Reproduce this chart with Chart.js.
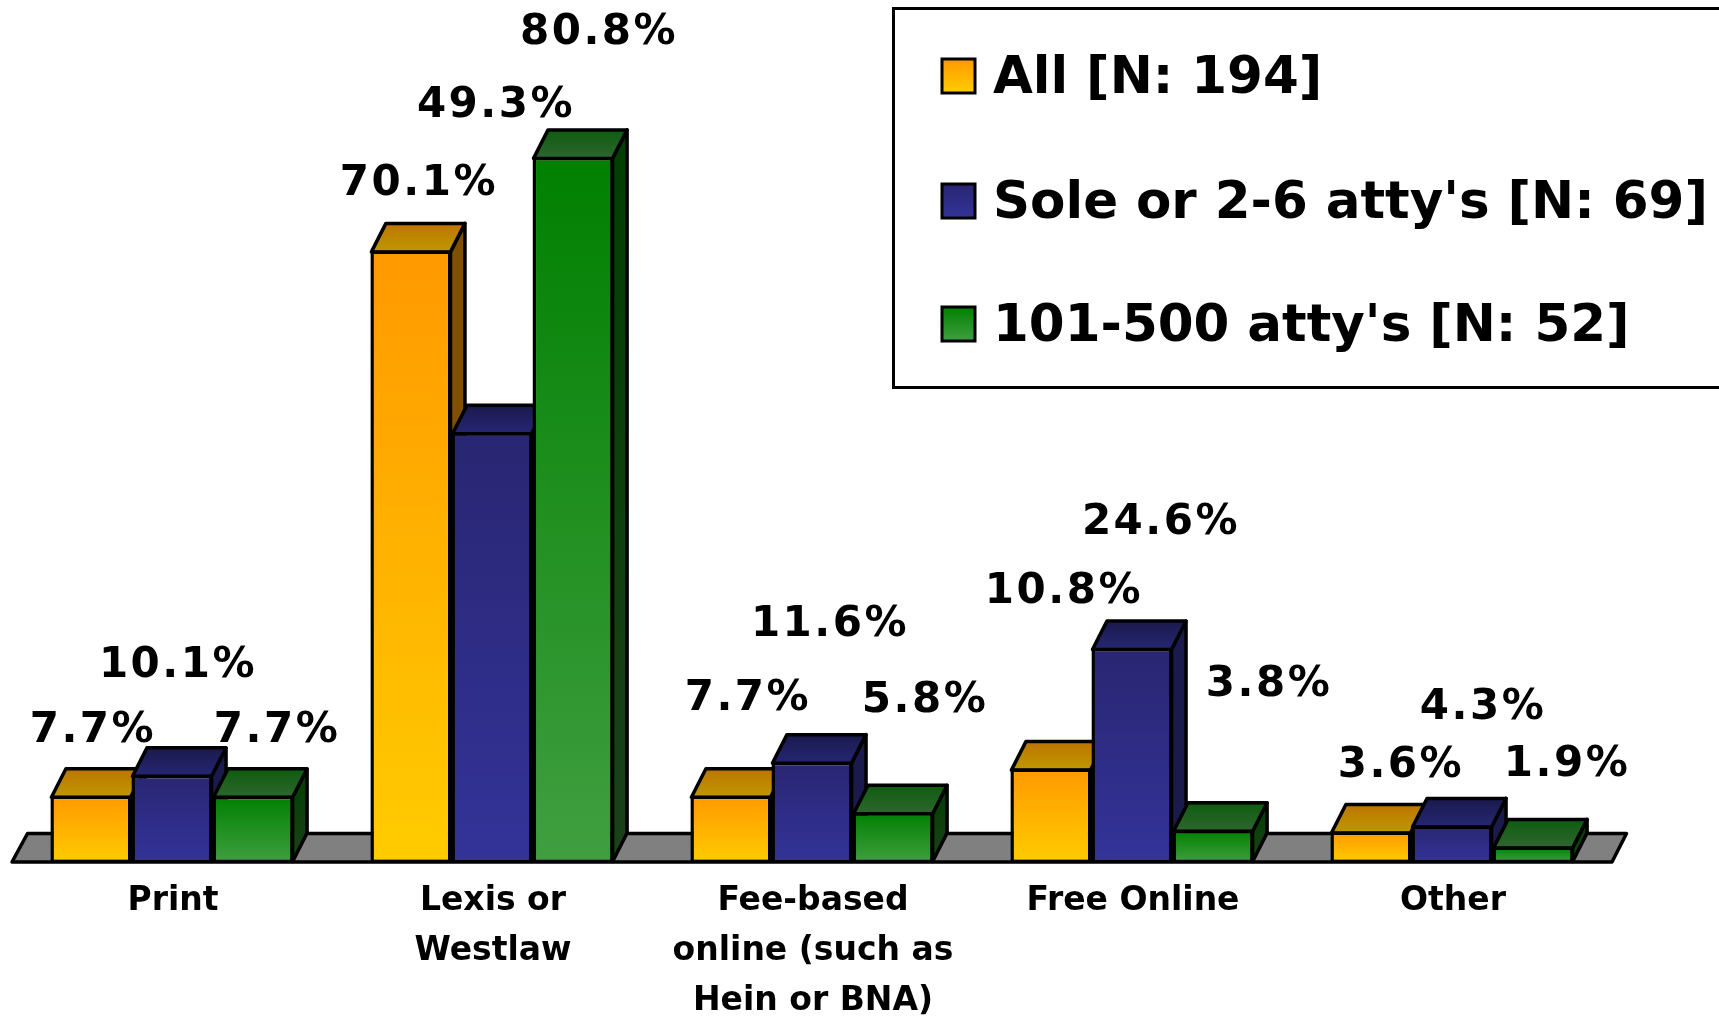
<!DOCTYPE html>
<html>
<head>
<meta charset="utf-8">
<style>html,body{margin:0;padding:0;background:#fff;overflow:hidden}canvas{display:block}</style>
<script src="https://cdn.jsdelivr.net/npm/chart.js@4"></script>
</head>
<body>
<canvas id="c" width="1719" height="1016"></canvas>
<script>
const categories = ['Print', ['Lexis or', 'Westlaw'], ['Fee-based', 'online (such as', 'Hein or BNA)'], 'Free Online', 'Other'];
const seriesNames = ['All [N: 194]', "Sole or 2-6 atty's [N: 69]", "101-500 atty's [N: 52]"];
const allFirms = [7.7, 70.1, 7.7, 10.8, 3.6];
const soleFirms = [10.1, 49.3, 11.6, 24.6, 4.3];
const midFirms = [7.7, 80.8, 5.8, 3.8, 1.9];

// label placement relative to each bar's top centre, per series then category
const labelShiftX = [[2, 8, 17, 13, 30], [6, 4, 18, 29, 31], [24, 26, 32, 56, 34]];
const labelShiftY = [[-65, -66, -97, -177, -65], [-109, -326, -137, -125, -117], [-65, -124, -111, -145, -81]];

const palette = [
  {front: ['#FF9900', '#FFCC00'], top: ['#BD7400', '#BD9900'], side: ['#805000', '#805000']},
  {front: ['#292672', '#333399'], top: ['#1A1A4D', '#262673'], side: ['#1A1A4D', '#1A1A4D']},
  {front: ['#008000', '#409F40'], top: ['#0F5C10', '#2E662E'], side: ['#004000', '#1C401C']}
];
const DX = 14.5, DY = 28.5;
const LINE = 3.5;

function vGrad(ctx, y0, y1, pair) {
  const g = ctx.createLinearGradient(0, y0, 0, y1);
  g.addColorStop(0, pair[0]); g.addColorStop(1, pair[1]);
  return g;
}
function poly(ctx, pts, fill) {
  ctx.beginPath();
  pts.forEach((p, i) => i ? ctx.lineTo(p[0], p[1]) : ctx.moveTo(p[0], p[1]));
  ctx.closePath();
  ctx.fillStyle = fill; ctx.fill();
  ctx.lineWidth = LINE; ctx.strokeStyle = '#000'; ctx.lineJoin = 'round'; ctx.stroke();
}

const threeD = {
  id: 'threeD',
  // Paint floor, then each series left to right so nearer faces cover earlier ones.
  beforeDatasetsDraw(chart) {
    const {ctx, chartArea: a, scales: {y}} = chart;
    const b = y.getPixelForValue(0) - 1;
    ctx.save();
    poly(ctx, [[a.left, b], [a.right, b], [a.right + DX, b - DY], [a.left + DX + 1, b - DY]], '#808080');
    chart.data.datasets.forEach((ds, s) => {
      const meta = chart.getDatasetMeta(s);
      const pal = palette[s];
      meta.data.forEach(bar => {
        const l = bar.x - bar.width / 2, r = bar.x + bar.width / 2, t = bar.y + 1.5, bb = bar.base - 1.5;
        poly(ctx, [[r - 1, t], [r - 1 + DX, t - DY], [r - 1 + DX, bb - DY], [r - 1, bb]], vGrad(ctx, t - DY, bb, pal.side));
        poly(ctx, [[l + 1, t], [r - 1, t], [r - 1 + DX, t - DY], [l + 1 + DX, t - DY]], vGrad(ctx, t - DY, t, pal.top));
      });
      meta.controller.draw();
    });
    ctx.restore();
    return false;
  },
  afterDraw(chart) {
    const {ctx} = chart;
    ctx.save();
    // value labels
    ctx.fillStyle = '#000';
    ctx.font = 'bold 42px "DejaVu Sans"';
    ctx.letterSpacing = '2.5px';
    ctx.textAlign = 'center';
    ctx.textBaseline = 'middle';
    chart.data.datasets.forEach((ds, s) => {
      chart.getDatasetMeta(s).data.forEach((bar, i) => {
        ctx.fillText(ds.data[i].toFixed(1) + '%', bar.x + labelShiftX[s][i], bar.y + labelShiftY[s][i]);
      });
    });
    // legend
    ctx.letterSpacing = '0px';
    ctx.lineWidth = 3; ctx.strokeStyle = '#000';
    ctx.fillStyle = '#fff';
    ctx.fillRect(893.5, 8.5, 840, 379);
    ctx.strokeRect(893.5, 8.5, 840, 379);
    const swatchRows = [76, 201, 324];
    const textRows = [80, 205, 328];
    ctx.textAlign = 'left';
    ctx.font = 'bold 51.5px "DejaVu Sans"';
    ctx.textBaseline = 'middle';
    chart.data.datasets.forEach((ds, s) => {
      const cy = swatchRows[s];
      ctx.fillStyle = vGrad(ctx, cy - 17, cy + 17, palette[s].front);
      ctx.fillRect(942, cy - 17, 33, 34);
      ctx.strokeRect(942, cy - 17, 33, 34);
      ctx.fillStyle = '#000';
      ctx.fillText(ds.label, 993, textRows[s]);
    });
    ctx.restore();
  }
};

function frontFill(s) {
  return c => {
    const y = c.chart.scales.y;
    const v = c.parsed ? c.parsed.y : NaN;
    if (!y || !Number.isFinite(v)) return palette[s].front[0];
    const y0 = y.getPixelForValue(v), y1 = y.getPixelForValue(0);
    if (!Number.isFinite(y0) || !Number.isFinite(y1)) return palette[s].front[0];
    return vGrad(c.chart.ctx, y0, y1, palette[s].front);
  };
}

const seriesValues = [allFirms, soleFirms, midFirms];
new Chart(document.getElementById('c'), {
  type: 'bar',
  data: {
    labels: categories,
    datasets: seriesNames.map((name, s) => ({
      label: name,
      data: seriesValues[s],
      backgroundColor: frontFill(s),
      borderColor: '#000',
      borderWidth: LINE,
      borderSkipped: false,
      categoryPercentage: 0.76,
      barPercentage: 1
    }))
  },
  options: {
    responsive: false,
    animation: false,
    layout: {padding: {left: 12, right: 107, top: 76.5, bottom: 0}},
    plugins: {legend: {display: false}, tooltip: {enabled: false}, title: {display: false}},
    scales: {
      x: {
        grid: {display: false},
        border: {display: false},
        afterFit(s) { s.height = 153; },
        ticks: {
          autoSkip: false, maxRotation: 0, minRotation: 0, padding: 5, color: '#000', labelOffset: 1,
          font: {family: '"DejaVu Sans"', size: 33, weight: 'bold', lineHeight: 1.515}
        }
      },
      y: {display: false, min: 0, max: 90}
    }
  },
  plugins: [threeD]
});
</script>
</body>
</html>
